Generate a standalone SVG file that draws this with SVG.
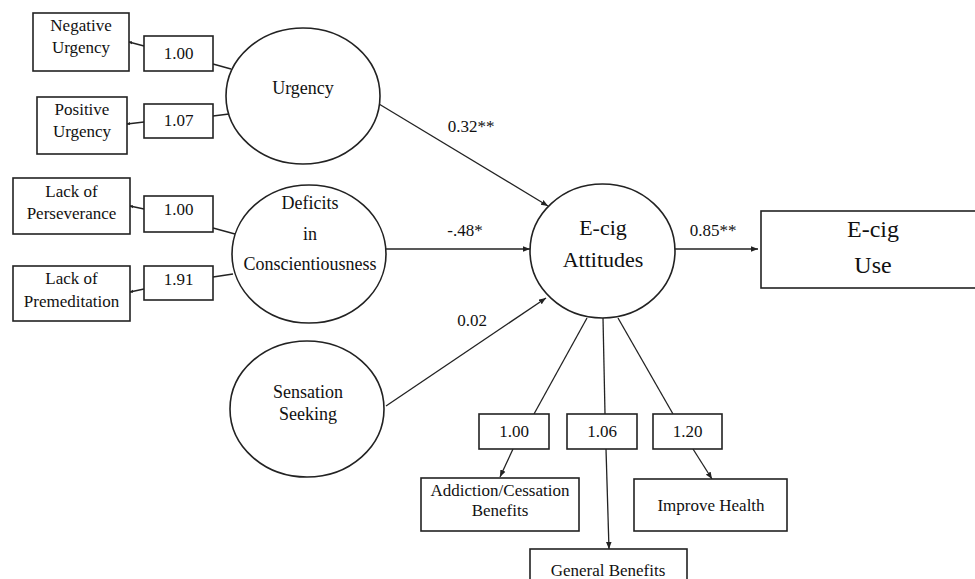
<svg xmlns="http://www.w3.org/2000/svg" width="975" height="579" viewBox="0 0 975 579">
<style>
  .box { fill: #fff; stroke: #222; stroke-width: 1.6; }
  .ell { fill: #fff; stroke: #222; stroke-width: 1.6; }
  .ln { fill: none; stroke: #222; stroke-width: 1.3; }
  .t { font-family: "Liberation Serif", "Times New Roman", serif; font-size: 17px; fill: #111; text-anchor: middle; }
  .e { font-size: 18px; }
  .big { font-size: 22px; }
  .big2 { font-size: 24px; }
</style>
<defs>
  <marker id="arr" viewBox="0 0 10 10" refX="10" refY="5" markerWidth="7" markerHeight="7" markerUnits="userSpaceOnUse" orient="auto">
    <path d="M0,1 L10,5 L0,9 z" fill="#222"/>
  </marker>
  <marker id="dot" viewBox="0 0 10 10" refX="8" refY="5" markerWidth="4" markerHeight="4" markerUnits="userSpaceOnUse" orient="auto">
    <path d="M0,1 L10,5 L0,9 z" fill="#222"/>
  </marker>
</defs>

<g id="connectors">
  <line class="ln" x1="144" y1="46" x2="129" y2="42" marker-end="url(#dot)"/>
  <line class="ln" x1="213" y1="64" x2="231" y2="69"/>
  <line class="ln" x1="144" y1="122" x2="127" y2="124" marker-end="url(#dot)"/>
  <line class="ln" x1="213" y1="116" x2="229" y2="114"/>
  <line class="ln" x1="144" y1="209" x2="130" y2="206" marker-end="url(#dot)"/>
  <line class="ln" x1="213" y1="228" x2="235" y2="234"/>
  <line class="ln" x1="144" y1="289" x2="130" y2="292" marker-end="url(#dot)"/>
  <line class="ln" x1="213" y1="277" x2="233" y2="274"/>
  <line class="ln" x1="379" y1="104" x2="548" y2="206" marker-end="url(#arr)"/>
  <line class="ln" x1="386" y1="249" x2="530" y2="249" marker-end="url(#arr)"/>
  <line class="ln" x1="386" y1="406" x2="546" y2="298" marker-end="url(#arr)"/>
  <line class="ln" x1="675" y1="249" x2="758" y2="249" marker-end="url(#arr)"/>
  <line class="ln" x1="587" y1="318" x2="534" y2="414"/>
  <line class="ln" x1="603" y1="318" x2="605" y2="414"/>
  <line class="ln" x1="618" y1="318" x2="673" y2="414"/>
  <line class="ln" x1="513" y1="449" x2="500" y2="477" marker-end="url(#arr)"/>
  <line class="ln" x1="606" y1="449" x2="609" y2="549" marker-end="url(#arr)"/>
  <line class="ln" x1="693" y1="449" x2="712" y2="479" marker-end="url(#arr)"/>
  <text class="t" x="471" y="132">0.32**</text>
  <text class="t" x="465" y="236">-.48*</text>
  <text class="t" x="472" y="326">0.02</text>
  <text class="t" x="713" y="236">0.85**</text>
</g>

<g id="negative-urgency">
  <rect class="box" x="33" y="13" width="96" height="58"/>
  <text class="t" x="81" y="31">Negative</text>
  <text class="t" x="81" y="53">Urgency</text>
</g>
<g id="load-nu">
  <rect class="box" x="144" y="36" width="69" height="35"/>
  <text class="t" x="178.5" y="59">1.00</text>
</g>
<g id="positive-urgency">
  <rect class="box" x="37" y="97" width="90" height="57"/>
  <text class="t" x="82" y="115">Positive</text>
  <text class="t" x="82" y="137">Urgency</text>
</g>
<g id="load-pu">
  <rect class="box" x="144" y="104" width="69" height="34"/>
  <text class="t" x="178.5" y="126">1.07</text>
</g>
<g id="urgency">
  <ellipse class="ell" cx="303" cy="96" rx="77" ry="68"/>
  <text class="t e" x="303" y="94">Urgency</text>
</g>

<g id="lack-perseverance">
  <rect class="box" x="13" y="178" width="117" height="56"/>
  <text class="t" x="71.5" y="197">Lack of</text>
  <text class="t" x="71.5" y="219">Perseverance</text>
</g>
<g id="load-lp">
  <rect class="box" x="144" y="196" width="69" height="36"/>
  <text class="t" x="178.5" y="215">1.00</text>
</g>
<g id="lack-premeditation">
  <rect class="box" x="13" y="266" width="117" height="55"/>
  <text class="t" x="71.5" y="284">Lack of</text>
  <text class="t" x="71.5" y="307">Premeditation</text>
</g>
<g id="load-lpm">
  <rect class="box" x="144" y="266" width="69" height="34"/>
  <text class="t" x="178.5" y="285">1.91</text>
</g>
<g id="deficits">
  <ellipse class="ell" cx="309" cy="254" rx="77" ry="69"/>
  <text class="t e" x="310" y="209">Deficits</text>
  <text class="t e" x="310" y="240">in</text>
  <text class="t e" x="310" y="270">Conscientiousness</text>
</g>

<g id="sensation-seeking">
  <ellipse class="ell" cx="307" cy="409" rx="77" ry="68"/>
  <text class="t e" x="308" y="398">Sensation</text>
  <text class="t e" x="308" y="420">Seeking</text>
</g>

<g id="ecig-attitudes">
  <ellipse class="ell" cx="602.5" cy="251" rx="72.5" ry="67"/>
  <text class="t big" x="603" y="235">E-cig</text>
  <text class="t big" x="603" y="267">Attitudes</text>
</g>

<g id="ecig-use">
  <rect class="box" x="761" y="211" width="220" height="77"/>
  <text class="t big2" x="873" y="237">E-cig</text>
  <text class="t big2" x="873" y="273">Use</text>
</g>

<g id="load-acb">
  <rect class="box" x="479" y="414" width="70" height="35"/>
  <text class="t" x="514" y="437">1.00</text>
</g>
<g id="load-gb">
  <rect class="box" x="567" y="414" width="70" height="35"/>
  <text class="t" x="602" y="437">1.06</text>
</g>
<g id="load-ih">
  <rect class="box" x="653" y="414" width="69" height="35"/>
  <text class="t" x="687.5" y="437">1.20</text>
</g>

<g id="addiction-cessation">
  <rect class="box" x="421" y="478" width="158" height="53"/>
  <text class="t" x="500" y="496">Addiction/Cessation</text>
  <text class="t" x="500" y="516">Benefits</text>
</g>
<g id="general-benefits">
  <rect class="box" x="530" y="549" width="157" height="50"/>
  <text class="t" x="608" y="576">General Benefits</text>
</g>
<g id="improve-health">
  <rect class="box" x="634" y="479" width="153" height="52"/>
  <text class="t" x="711" y="511">Improve Health</text>
</g>
</svg>
